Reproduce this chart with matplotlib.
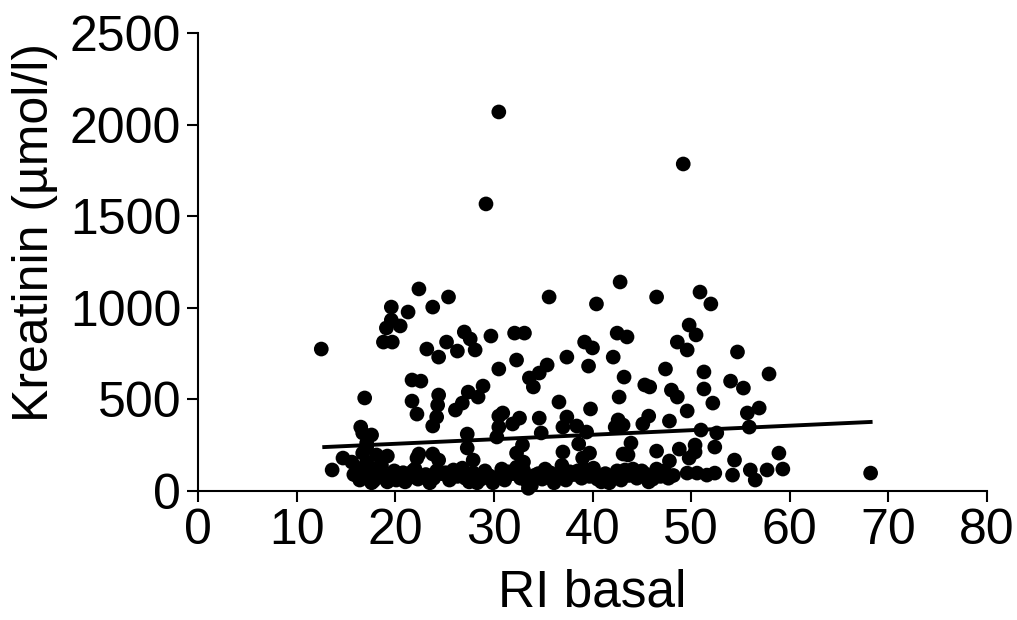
import matplotlib.pyplot as plt
import numpy as np

plt.rcParams["font.family"] = ["Liberation Sans", "DejaVu Sans"]

# scattered points (RI basal, Kreatinin)
upper_x = [30.5, 29.2, 49.2, 22.4, 25.4, 35.6, 42.8, 46.5, 50.9, 52.0,
           12.5, 19.6, 21.3, 23.8, 40.4, 19.6, 20.5, 19.1, 18.8, 19.7,
           27.0, 27.6, 29.7, 32.1, 33.1, 25.2, 23.2, 24.4, 26.3, 28.1,
           39.2, 40.0, 37.4, 39.6, 32.3, 30.5, 35.4, 34.6, 33.6, 34.0,
           21.7, 22.6, 28.9, 27.4, 28.4, 24.4, 24.3, 24.2, 23.8,
           21.7, 22.2, 26.1, 26.8, 16.9, 36.6, 39.8,
           30.5, 30.9, 32.6, 31.9, 34.6, 34.8, 37.4, 37.0, 38.4, 39.4,
           16.5, 17.6, 17.1, 27.3, 30.5, 30.3, 32.9, 32.3, 33.0, 27.3, 27.9,
           38.6, 37.0, 39.7, 39.0, 14.7, 15.6, 16.7, 17.1, 19.2, 22.4, 23.8, 24.4, 13.6,
           18.1, 16.7, 17.1, 22.2]
upper_y = [2069, 1567, 1785, 1103, 1059, 1059, 1141, 1059, 1086, 1021,
           775, 1004, 977, 1004, 1021, 933, 901, 890, 813, 813,
           868, 830, 846, 862, 862, 813, 775, 731, 764, 770,
           813, 781, 731, 682, 715, 666, 688, 644, 617, 568,
           606, 600, 573, 540, 513, 524, 469, 404, 355,
           491, 420, 442, 480, 508, 486, 448,
           409, 426, 398, 366, 398, 317, 404, 349, 355, 322,
           349, 306, 262, 311, 349, 295, 251, 207, 158, 235, 169,
           257, 213, 207, 180, 180, 158, 207, 158, 191, 202, 202, 169, 115,
           197, 317, 240, 180]

right_x = [49.8, 50.5, 48.6, 49.6, 42.5, 43.5, 42.1, 54.7, 47.4, 51.3, 43.2, 57.9,
           45.3, 45.8, 48.0, 48.6, 51.3, 54.0, 55.3, 42.7, 52.2, 49.6, 55.7, 56.9,
           42.6, 42.3, 43.1, 45.7, 45.1, 47.8, 51.0, 52.6, 52.4, 55.9,
           43.9, 43.6, 43.1, 46.5, 47.8, 48.8, 49.8, 50.4, 50.4, 58.9,
           54.4, 54.2, 56.0, 56.5, 57.7, 59.3, 68.2, 49.6, 50.6, 51.6, 52.4]
right_y = [906, 852, 813, 770, 862, 841, 731, 759, 666, 650, 622, 639,
           579, 568, 551, 513, 557, 600, 562, 513, 480, 437, 426, 453,
           388, 349, 360, 409, 366, 382, 333, 317, 240, 349,
           262, 197, 202, 218, 164, 229, 180, 251, 213, 207,
           169, 87, 115, 60, 115, 120, 98, 98, 98, 87, 98]

# dense band of low values
band_x = [15.8, 16.4, 17.0, 17.3, 17.8, 18.3, 18.9, 19.5, 20.1, 20.8, 21.5, 22.3,
          23.1, 23.9, 24.7, 25.5, 26.3, 27.1, 27.9, 28.7, 29.5, 30.3, 31.1, 31.9,
          32.7, 33.4, 34.1, 34.9, 35.7, 36.5, 37.3, 38.1, 38.9, 39.7, 40.5, 41.3,
          42.1, 42.9, 43.7, 44.5, 45.3, 46.1, 46.9, 47.7,
          16.8, 17.6, 18.6, 19.9, 21.0, 22.0, 24.2, 26.8, 28.3, 30.8, 32.3, 33.8,
          35.2, 36.9, 38.5, 40.1, 41.7, 43.3, 45.0, 46.5, 33.5,
          16.2, 17.9, 19.2, 20.5, 21.8, 23.5, 25.1, 25.9, 27.5, 29.1, 29.9, 31.5,
          33.0, 34.5, 36.1, 37.7, 39.3, 40.9, 42.5, 44.1, 45.7, 47.3, 48.2]
band_y = [90, 60, 75, 110, 55, 95, 70, 85, 60, 100, 75, 65,
          90, 70, 95, 60, 80, 70, 100, 65, 85, 75, 60, 95,
          70, 50, 85, 65, 100, 75, 60, 90, 70, 80, 65, 95,
          75, 60, 85, 70, 95, 65, 80, 70,
          130, 45, 140, 110, 50, 120, 110, 125, 45, 120, 130, 30,
          120, 140, 110, 125, 45, 115, 110, 120, 15,
          105, 120, 50, 85, 110, 45, 100, 115, 50, 110, 45, 105,
          115, 95, 45, 105, 115, 50, 110, 120, 50, 110, 85]

# regression line end points
fit_x = [12.8, 68.2]
fit_y = [240, 377]

x_ticks = [0, 10, 20, 30, 40, 50, 60, 70, 80]
y_ticks = [0, 500, 1000, 1500, 2000, 2500]

fig = plt.figure(figsize=(10.17, 6.2), dpi=100)
ax = fig.add_axes([0.1947, 0.208, 0.7758, 0.7388])

xs = np.concatenate([upper_x, right_x, band_x])
ys = np.concatenate([upper_y, right_y, band_y])
ax.scatter(xs, ys, s=112, color="black", edgecolors="none", clip_on=False, zorder=3)
ax.plot(fit_x, fit_y, color="black", linewidth=2.8, zorder=4)

ax.set_xlim(0, 80)
ax.set_ylim(0, 2500)
ax.set_xticks(x_ticks)
ax.set_yticks(y_ticks)
for side in ("top", "right"):
    ax.spines[side].set_visible(False)
for side in ("left", "bottom"):
    ax.spines[side].set_linewidth(1.5)
ax.tick_params(direction="out", length=8, width=1.5, labelsize=36, pad=4)
ax.set_xlabel("RI basal", fontsize=37, labelpad=11)
ax.set_ylabel("Kreatinin (µmol/l)", fontsize=36)
ax.yaxis.set_label_coords(-0.178, 0.565)

fig.savefig("out.png", dpi=100)
plt.close(fig)
